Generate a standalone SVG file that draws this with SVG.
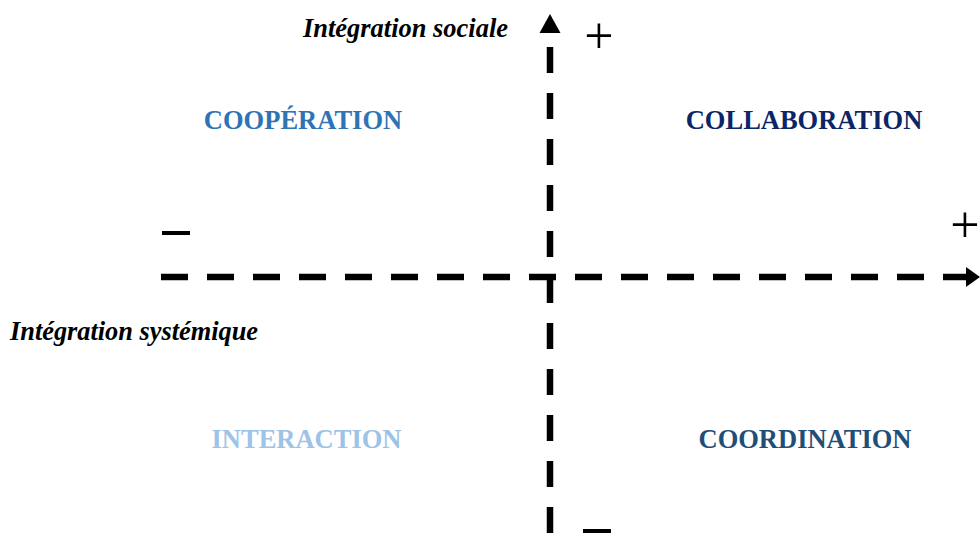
<svg xmlns="http://www.w3.org/2000/svg" width="980" height="533" viewBox="0 0 980 533">
<style>
.axis{stroke:#000;stroke-width:6.5;fill:none}
.lbl{font-family:"Liberation Serif","Times New Roman",serif;font-weight:bold;font-size:26.5px}
.ax{font-family:"Liberation Serif","Times New Roman",serif;font-weight:bold;font-style:italic;font-size:26.5px;fill:#000}
.sign{font-family:"Liberation Serif","Times New Roman",serif;font-size:52px;fill:#000}
</style>
<rect width="980" height="533" fill="#fff"/>
<g id="connectors">
<line class="axis" x1="550" y1="533" x2="550" y2="42" stroke-dasharray="26 20" stroke-width="6"/>
<polygon points="550,14 560.5,33 539.5,33" fill="#000"/>
<line class="axis" x1="161" y1="277" x2="967" y2="277" stroke-dasharray="27 19" stroke-width="7"/>
<polygon points="980,277 966,267 966,287" fill="#000"/>
</g>
<g id="axis-labels">
<text class="ax" x="303" y="37" textLength="205" lengthAdjust="spacingAndGlyphs">Intégration sociale</text>
<text class="ax" x="10" y="340" textLength="248" lengthAdjust="spacingAndGlyphs">Intégration systémique</text>
</g>
<g id="signs">
<text class="sign" x="599" y="53" text-anchor="middle">+</text>
<text class="sign" x="965" y="242" text-anchor="middle">+</text>
<rect x="162" y="231" width="28" height="4" fill="#000"/>
<rect x="583" y="529" width="28" height="4" fill="#000"/>
</g>
<g id="cooperation"><text class="lbl" x="303" y="129" text-anchor="middle" fill="#2E74B5">COOPÉRATION</text></g>
<g id="collaboration"><text class="lbl" x="804" y="129" text-anchor="middle" fill="#0B2566">COLLABORATION</text></g>
<g id="interaction"><text class="lbl" x="306.5" y="448" text-anchor="middle" fill="#9DC3E6">INTERACTION</text></g>
<g id="coordination"><text class="lbl" x="805" y="448" text-anchor="middle" fill="#1F4E79">COORDINATION</text></g>
</svg>
